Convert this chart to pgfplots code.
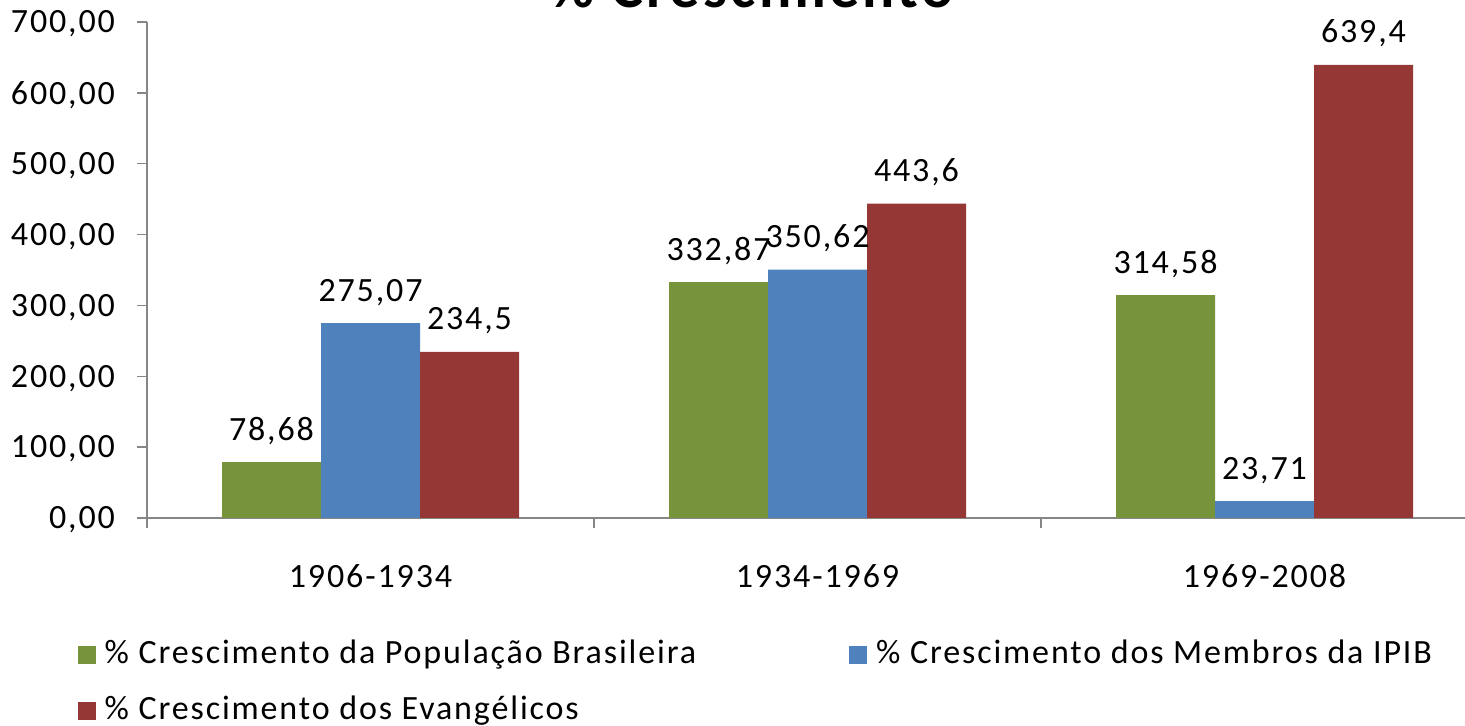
\documentclass[border=0pt]{standalone}
\usepackage{fontspec}
\setmainfont{Carlito}[LetterSpace=5.5]
\usepackage{pgfplots}
\pgfplotsset{compat=1.18}
\definecolor{cgreen}{HTML}{77933C}
\definecolor{cblue}{HTML}{4F81BD}
\definecolor{cred}{HTML}{953735}
\definecolor{caxis}{HTML}{868686}
\newcommand{\lblfont}{\fontsize{17}{20}\selectfont}
\begin{document}
\begin{tikzpicture}
\path[use as bounding box] (0,0) rectangle (732.5pt,363pt);
\node[anchor=base, font=\fontsize{30}{36}\selectfont\bfseries, inner sep=0pt] at (376pt,359pt) {\% Crescimento};
\begin{axis}[
  at={(73.5pt,104pt)}, anchor=south west,
  scale only axis, width=670.5pt, height=248pt,
  xmin=-0.5, xmax=2.5, ymin=0, ymax=700,
  axis x line=bottom, axis y line=left,
  axis line style={draw=caxis, line width=0.75pt, -},
  every tick/.style={draw=caxis, line width=0.75pt},
  tick align=outside, major tick length=5pt,
  xtick={-0.5,0.5,1.5,2.5},
  x tick label as interval,
  xticklabels={1906-1934,1934-1969,1969-2008},
  xticklabel style={yshift=-14.5pt},
  ytick={0,100,...,700},
  yticklabel style={xshift=-7.5pt, yshift=-1pt, /pgf/number format/.cd, fixed, fixed zerofill, precision=2, use comma, 1000 sep={}, assume math mode=true},
  tick label style={font=\lblfont},
  ybar=0pt, bar width=49.5pt,
  point meta=explicit symbolic,
  nodes near coords,
  every node near coord/.append style={font=\lblfont, anchor=base, inner sep=0pt, yshift=11pt, text=black},
  legend style={at={(axis description cs:-0.052,-0.333)}, anchor=west, draw=none, fill=none,
    font=\lblfont, legend columns=2, inner sep=0pt, row sep=8pt,
    nodes={inner sep=2pt, text height=12pt, text depth=4pt},
    /tikz/every even column/.append style={column sep=74.5pt},
    /tikz/every odd column/.append style={column sep=2.5pt}},
  legend cell align=left,
  legend image code/.code={\fill[#1] (0pt,-4.5pt) rectangle (9pt,4.5pt);},
]
\addplot[fill=cgreen, draw=none] coordinates {(0,78.68) [78,68] (1,332.87) [332,87] (2,314.58) [314,58]};
\addplot[fill=cblue, draw=none] coordinates {(0,275.07) [275,07] (1,350.62) [350,62] (2,23.71) [23,71]};
\addplot[fill=cred, draw=none] coordinates {(0,234.5) [234,5] (1,443.6) [443,6] (2,639.4) [639,4]};
\legend{\% Crescimento da População Brasileira, \% Crescimento dos Membros da IPIB, \% Crescimento dos Evangélicos}
\end{axis}
\end{tikzpicture}
\end{document}
